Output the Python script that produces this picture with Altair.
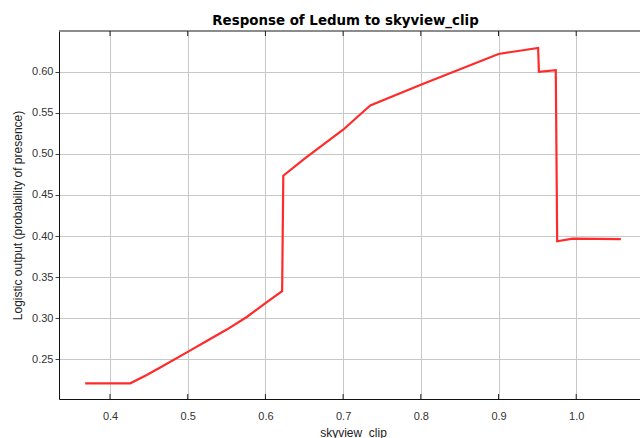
import altair as alt
import pandas as pd

# Response curve
x_vals = [0.368, 0.426, 0.4472, 0.464, 0.500, 0.5244, 0.5502, 0.576, 0.6018, 0.6215,
          0.623, 0.650, 0.700, 0.728, 0.735, 0.800, 0.900, 0.951, 0.952, 0.9737,
          0.9755, 0.9955, 1.0575]
y_vals = [0.221, 0.221, 0.2310, 0.2398, 0.2592, 0.2725, 0.2863, 0.3016, 0.3197, 0.3330,
          0.4734, 0.4937, 0.5293, 0.553, 0.5589, 0.584, 0.6214, 0.6287, 0.5996, 0.6017,
          0.3936, 0.3968, 0.3962]

x_ticks = [0.4, 0.5, 0.6, 0.7, 0.8, 0.9, 1.0]
y_ticks = [0.25, 0.30, 0.35, 0.40, 0.45, 0.50, 0.55, 0.60]

x_domain = [0.3343, 1.0821]
y_domain = [0.2019, 0.6493]

W, H = 581, 368

df = pd.DataFrame({"skyview_clip": x_vals, "prob": y_vals, "order": list(range(len(x_vals)))})
df_ticks = pd.DataFrame({"skyview_clip": x_ticks})
df_one = pd.DataFrame({"a": [0]})

xscale = alt.Scale(domain=x_domain, nice=False, zero=False)
yscale = alt.Scale(domain=y_domain, nice=False, zero=False)

line = alt.Chart(df).mark_line(color="#ff2b2b", strokeWidth=2.2, clip=True).encode(
    x=alt.X("skyview_clip:Q", scale=xscale,
            axis=alt.Axis(values=x_ticks, format=".1f", title="skyview_clip",
                          ticks=False, labelPadding=11, titlePadding=6,
                          titleX=294, grid=True)),
    y=alt.Y("prob:Q", scale=yscale,
            axis=alt.Axis(values=y_ticks, format=".2f",
                          title="Logistic output (probability of presence)",
                          tickSize=4, labelPadding=2, titlePadding=7, grid=True)),
    order="order:Q",
)

bottom_ticks = alt.Chart(df_ticks).mark_rule(color="#222", strokeWidth=1).encode(
    x=alt.X("skyview_clip:Q", scale=xscale),
    y=alt.value(H - 5), y2=alt.value(H),
)
top_ticks = alt.Chart(df_ticks).mark_rule(color="#222", strokeWidth=1).encode(
    x=alt.X("skyview_clip:Q", scale=xscale),
    y=alt.value(0), y2=alt.value(5),
)
top_border = alt.Chart(df_one).mark_rule(color="#666", strokeWidth=1.5).encode(
    y=alt.datum(y_domain[1], scale=yscale),
)

chart = alt.layer(top_border, bottom_ticks, top_ticks, line).properties(
    width=W, height=H,
    title=alt.TitleParams("Response of Ledum to skyview_clip", font="DejaVu Sans",
                          fontSize=13.4, fontWeight="bold", anchor="middle",
                          dx=-4, dy=15, offset=7, baseline="alphabetic", color="#000"),
    autosize=alt.AutoSizeParams(type="none"),
    padding={"left": 59, "top": 31, "right": 0, "bottom": 39},
    background="white",
).configure_view(stroke=None).configure_axis(
    labelFont="Liberation Sans", labelFontSize=11, labelColor="#333",
    titleFont="Liberation Sans", titleFontSize=12, titleFontWeight="normal", titleColor="#222",
    gridColor="#c8c8c8", gridWidth=1, domainColor="#111", domainWidth=1,
    tickColor="#444",
)

chart.save("out.html", embed_options={"renderer": "svg", "actions": False})
